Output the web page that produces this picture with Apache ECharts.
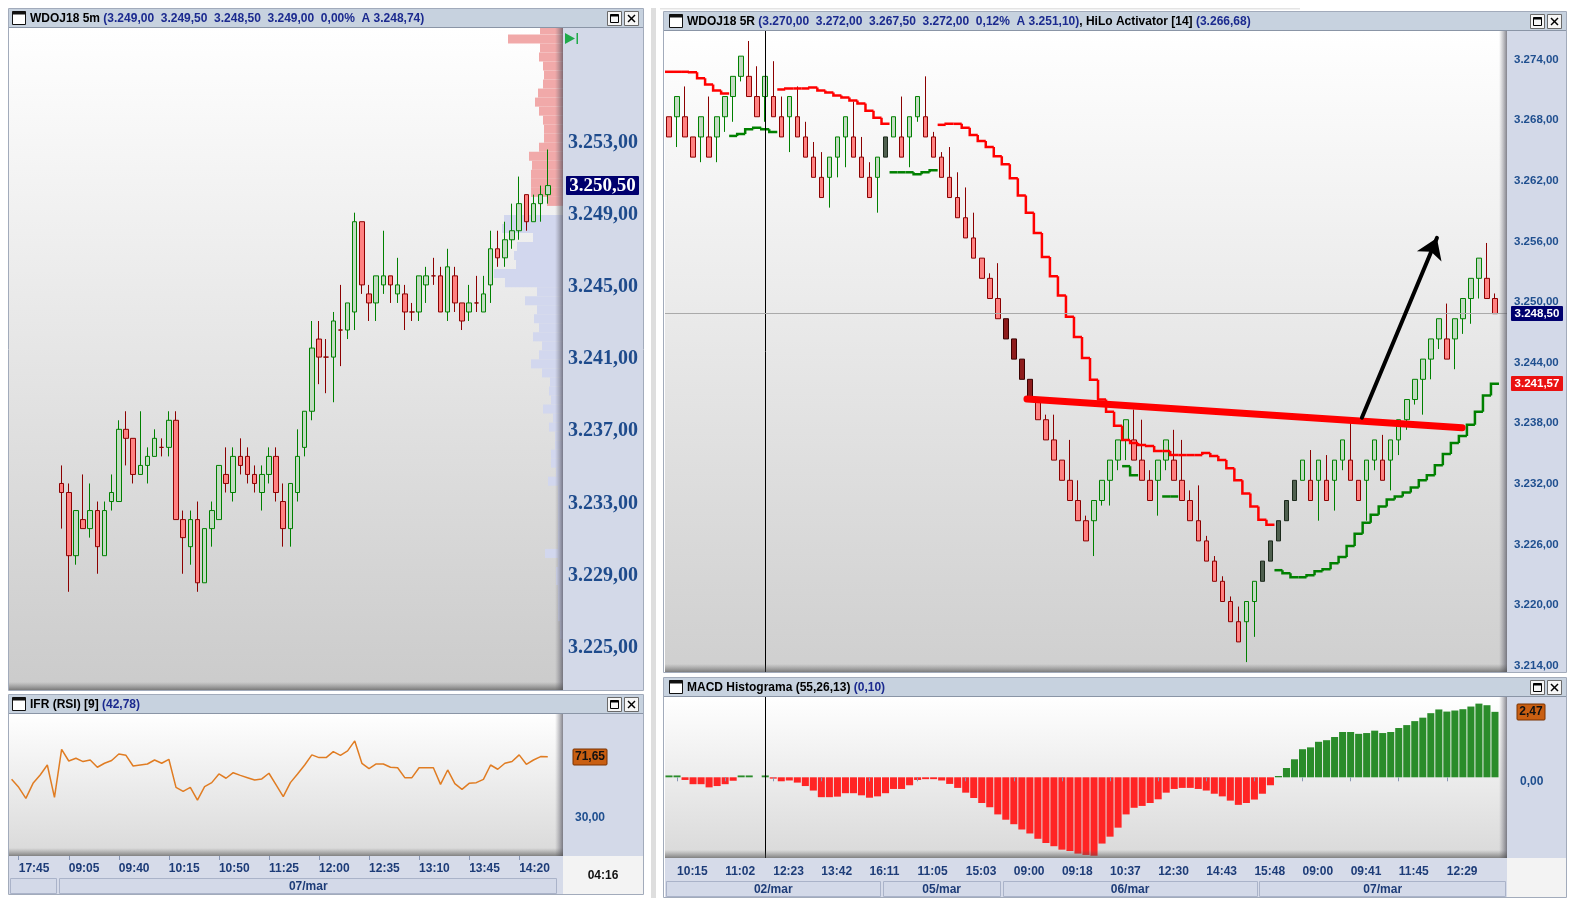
<!DOCTYPE html>
<html><head><meta charset="utf-8">
<script src="https://cdn.jsdelivr.net/npm/echarts@6.0.0/dist/echarts.min.js"></script>
<style>html,body{margin:0;padding:0;background:#fff;overflow:hidden}#c{width:1570px;height:902px}</style>
</head><body><div id="c"></div><script>
// ---------------- LEFT PANEL (WDOJ18 5m) ----------------
const leftSlotCount = 77;
const leftFirstSlot = 7;
const leftTickStart = 1, leftTickStep = 7;
const leftTickLabels = ['17:45','09:05','09:40','10:15','10:50','11:25','12:00','12:35','13:10','13:45','14:20'];
const leftDates = ['', '07/mar'];
const leftDateStarts = [0, 7];
const leftPriceTicks = [3225,3229,3233,3237,3241,3245,3249,3253];
const leftOpen  = [3234,3233.5,3230,3232,3231.5,3232.5,3230,3233,3233,3237,3236.5,3234.5,3235,3235.5,3236,3236,3237.5,3232,3230.5,3232,3228.5,3231.5,3232,3234.5,3233.5,3235.5,3235.5,3234.5,3233.5,3234.5,3235.5,3233,3231.5,3233.5,3236,3238,3242,3241,3241,3242.5,3242.5,3243.5,3248.5,3244.5,3244,3245,3245.5,3244.5,3244.5,3243.5,3243.5,3245,3245.5,3245.5,3243.5,3245.5,3244,3243.5,3244,3243.5,3245,3247,3246.5,3247.5,3248,3250,3248.5,3249.5,3250];
const leftClose = [3233.5,3230,3232.5,3231.5,3232.5,3230.5,3232.5,3233.5,3237,3236.5,3234.5,3235,3235.5,3236.5,3236,3237.5,3232,3231,3232,3228.5,3231.5,3232.5,3235,3234,3235.5,3235,3234.5,3234,3234.5,3235.5,3233.5,3231.5,3234,3235.5,3238,3241.5,3241,3241,3243,3242.5,3244,3248.5,3245,3244,3245.5,3245.5,3245,3245,3243.5,3243.5,3245.5,3245.5,3245.5,3243.5,3246,3244,3243,3244,3244,3244.5,3247,3246.5,3247.5,3248,3249.5,3248.5,3249.5,3250,3250.5];
const leftLow   = [3231.5,3228,3229.5,3231.5,3231,3229,3230,3232.5,3233,3235,3234,3234.5,3234,3235.5,3235.5,3235.5,3232,3229,3229.5,3228,3228.5,3230.5,3232,3233.5,3233,3234.5,3234,3233.5,3232.5,3234,3233,3230.5,3230.5,3233,3235.5,3237.5,3239.5,3239,3238.5,3240.5,3242,3242.5,3244.5,3243,3243,3244.5,3244,3244,3242.5,3243,3243,3244,3245,3243.5,3243,3243.5,3242.5,3243,3243.5,3243.5,3244,3246,3246,3247,3247.5,3248,3248.5,3248.5,3249.5];
const leftHigh  = [3235,3234,3232.5,3234.5,3234,3233,3233,3234.5,3237.5,3238,3236.5,3238,3236,3237,3236.5,3238,3238,3232.5,3232.5,3233,3231.5,3233,3235,3236,3236,3236.5,3236,3235,3235,3236,3236,3234,3234,3237,3238,3243,3243,3242,3243.5,3245,3244,3249,3248.5,3245,3245.5,3248,3245.5,3246.5,3245,3244,3245.5,3246,3246.5,3246,3247,3246,3244,3245,3245.5,3245.5,3248,3248,3248.5,3249.5,3251,3250,3250,3250.5,3252.5];
const profilePrices  = [3259,3258.5,3258,3257.5,3257,3256.5,3256,3255.5,3255,3254.5,3254,3253.5,3253,3252.5,3252,3251.5,3251,3250.5,3250,3249.5,3249,3248.5,3248,3247.5,3247,3246.5,3246,3245.5,3245,3244.5,3244,3243.5,3243,3242.5,3242,3241.5,3241,3240.5,3240,3239.5,3239,3238.5,3238,3237.5,3237,3236.5,3236,3235.5,3235,3234.5,3234,3233.5,3233,3232.5,3232,3231.5,3231,3230.5,3230,3229.5,3229,3228.5,3228,3227.5,3227,3226.5,3226,3225.5,3225,3224.5];
const profileVolumes = [23,55,23,24,20,19,20,25,28,24,20,19,19,24,34,31,32,32,32,16,6,59,61,30,46,49,47,69,58,26,38,26,29,24,30,21,24,32,21,13,14,12,20,10,14,8,8,12,12,7,15,5,5,5,5,5,5,5,18,5,7,7,5,5,5,5,3,3,1,1];
const rsiValues = [55.7,50.1,42.4,52.9,58.8,65.8,43.1,76.8,68.6,70.5,68.2,69.3,64.2,67.0,68.9,73.5,72.6,65.1,65.8,66.5,69.3,67.0,69.8,50.1,47.3,50.1,41.2,50.6,53.4,59.5,56.5,60.4,58.5,56.9,55.3,56.0,60.0,51.8,43.6,53.4,59.5,65.8,72.9,71.0,71.0,75.2,72.6,75.7,82.7,67.0,63.2,66.5,66.5,64.2,63.9,56.9,56.9,63.9,63.9,63.9,52.2,62.3,52.7,48.7,52.9,53.4,55.7,65.8,62.8,67.0,68.2,72.9,66.3,69.3,71.7,71.65];
const rsiTicks = [30];

// ---------------- RIGHT PANEL (WDOJ18 5R) ----------------
const rightSlotCount = 105;
const rightTickStart = 1, rightTickStep = 6;
const rightTickLabels = ['10:15','11:02','12:23','13:42','16:11','11:05','15:03','09:00','09:18','10:37','12:30','14:43','15:48','09:00','09:41','11:45','12:29'];
const rightDates = ['02/mar','05/mar','06/mar','07/mar'];
const rightDateStarts = [0, 27, 42, 74];
const rightPriceTicks = [3214,3220,3226,3232,3238,3244,3250,3256,3262,3268,3274];
const rightOpen  = [3268,3268,3268,3266,3266,3266,3266,3268,3270,3272,3272,3270,3270,3270,3268,3268,3268,3266,3264,3262,3262,3264,3266,3266,3264,3262,3262,3264,3266,3266,3266,3268,3268,3266,3264,3262,3260,3258,3256,3254,3252,3250,3248,3246,3244,3242,3240,3238,3236,3234,3232,3230,3228,3228,3230,3232,3234,3236,3236,3234,3232,3232,3234,3234,3232,3230,3228,3226,3224,3222,3220,3218,3218,3220,3222,3224,3226,3228,3230,3232,3232,3232,3232,3232,3234,3234,3232,3232,3234,3234,3234,3236,3238,3240,3242,3244,3246,3246,3246,3248,3250,3252,3252,3250];
const rightClose = [3266,3270,3266,3264,3268,3264,3268,3270,3272,3274,3270,3268,3272,3268,3266,3270,3266,3264,3262,3260,3264,3266,3268,3264,3262,3260,3264,3266,3268,3264,3268,3270,3266,3264,3262,3260,3258,3256,3254,3252,3250,3248,3246,3244,3242,3240,3238,3236,3234,3232,3230,3228,3226,3230,3232,3234,3236,3238,3234,3232,3230,3234,3236,3232,3230,3228,3226,3224,3222,3220,3218,3216,3220,3222,3224,3226,3228,3230,3232,3234,3230,3234,3230,3234,3236,3232,3230,3234,3236,3232,3236,3238,3240,3242,3244,3246,3248,3244,3248,3250,3252,3254,3250,3248.5];
const rightLow   = [3266,3265,3266,3264,3263.5,3264,3263.5,3266.5,3267.5,3271.5,3270,3268,3267.5,3268,3266,3264.5,3266,3264,3262,3260,3259,3262,3263,3264,3262,3260,3258.5,3264,3266,3264,3263,3267.5,3266,3264,3262,3260,3258,3256,3254,3252,3250,3248,3246,3244,3242,3240,3238,3236,3234,3232,3230,3228,3226,3224.5,3229.5,3229.5,3233,3234,3234,3232,3230,3228.5,3233,3232,3230,3228,3226,3224,3222,3220,3218,3216,3214,3216.5,3222,3224,3226,3228,3230,3232,3230,3228,3230,3229,3233,3232,3230,3228,3233,3232,3231,3234.5,3237,3239.5,3238.5,3242,3245,3244,3243,3246.5,3247.5,3250,3250,3248.5];
const rightHigh  = [3268,3270,3271,3266,3268,3270,3268,3270,3272,3274,3275.5,3273,3272,3273.5,3270,3270,3271,3267.5,3265.5,3264.5,3264,3266,3268,3269.5,3266,3263.5,3264,3266,3268,3270,3268,3270,3272,3266.5,3264.5,3265,3262.5,3261,3258.5,3254,3252.5,3253.5,3248,3246,3244,3242,3240,3238.5,3238.5,3234,3236,3232,3228.5,3230,3232,3234,3236,3238,3239,3238,3233,3234,3236,3237,3236,3231,3231.5,3226.5,3224.5,3222.5,3220.5,3219.5,3220,3222,3224,3226,3228,3230,3232,3234,3235,3234,3234.5,3234,3236,3238,3232,3234,3236,3236.5,3236,3238,3240,3242,3244,3246,3248,3249.5,3248,3250,3252,3254,3255.5,3250.5];
const rightDarkUp = [27,74,75,76,77,78];
const rightDarkDown = [42,43,44,45];
const hiloRed = [3272.45,3272.45,3272.45,3272.4,3271.8,3271.2,3270.6,3270.3,null,null,null,null,null,null,
  3270.7,3270.8,3270.8,3270.8,3270.9,3270.6,3270.4,3270.1,3269.9,3269.6,3269.3,3268.6,3267.9,3267.3,
  null,null,null,null,null,null,
  3267.2,3267.3,3267.3,3266.9,3266.2,3265.6,3265.0,3264.1,3263.3,3261.9,3260.2,3258.5,3256.5,3254.1,3252.2,3250.3,3248.2,3246.2,3244.1,3241.95,3240.0,3238.8,3237.4,3236.0,3235.7,3235.5,3235.4,3234.9,3234.9,3234.5,3234.5,3234.5,3234.5,3234.7,3234.4,3234.0,3233.2,3232.0,3230.7,3229.4,3228.1,3227.6,
  null,null,null,null,null,null,null,null,null,null,null,null,null,null,null,null,null,null,null,null,null,null,null,null,null,null,null,null];
const hiloGreen = [null,null,null,null,null,null,null,null,3266.1,3266.3,3266.75,3266.9,3266.75,3266.5,
  null,null,null,null,null,null,null,null,null,null,null,null,null,null,
  3262.5,3262.5,3262.5,3262.3,3262.5,3262.7,
  null,null,null,null,null,null,null,null,null,null,null,null,null,null,null,null,null,null,null,null,null,null,null,
  3233.4,3232.5,null,null,null,3230.4,3230.4,null,null,null,null,null,null,null,null,null,null,null,null,
  3223.1,3222.8,3222.4,3222.4,3222.6,3223.0,3223.2,3223.8,3224.4,3225.5,3226.7,3227.8,3228.6,3229.4,3230.1,3230.4,3230.8,3231.3,3232.0,3232.5,3233.5,3234.6,3235.7,3236.4,3237.5,3238.8,3240.4,3241.57];
const macdValues = [0.07,0.07,-0.10,-0.26,-0.26,-0.38,-0.33,-0.26,-0.13,0.07,0.07,0.0,0.07,-0.05,-0.15,-0.12,-0.20,-0.33,-0.50,-0.75,-0.75,-0.73,-0.60,-0.60,-0.68,-0.77,-0.72,-0.60,-0.44,-0.44,-0.30,-0.10,-0.07,-0.07,-0.12,-0.25,-0.40,-0.58,-0.78,-0.97,-1.13,-1.40,-1.60,-1.77,-1.97,-2.12,-2.32,-2.48,-2.60,-2.73,-2.78,-2.88,-2.93,-2.96,-2.50,-2.24,-1.90,-1.40,-1.15,-1.08,-0.97,-0.83,-0.58,-0.44,-0.40,-0.40,-0.44,-0.50,-0.62,-0.72,-0.88,-1.04,-0.97,-0.84,-0.62,-0.30,0.05,0.35,0.68,1.06,1.13,1.34,1.40,1.52,1.71,1.71,1.64,1.67,1.76,1.67,1.71,1.86,1.97,2.12,2.25,2.42,2.56,2.48,2.52,2.57,2.67,2.78,2.72,2.47];
const macdTicks = [0];
const crosshairSlot = 12;
const currentLinePrice = 3248.5;
// annotations (data coordinates: slot index, price)
const trendLine = [[44.64, 3240.05], [98.9, 3237.2]];
const arrowLine = [[86.4, 3238.2], [95.76, 3256.0]];
const noteText = [[75.4, 3252.0]];
const noteLabel = '10 PONTOS';

// axis ranges
const leftMin = 3222.56, leftMax = 3259.23;
const rsiMin = 1.9, rsiMax = 102.3;
const rightMin = 3213.02, rightMax = 3276.49;
const macdMin = -3.045, macdMax = 3.03;

// ---------------- helpers ----------------
function fmtBR(v, d) {
  const s = Number(v).toFixed(d);
  const parts = s.split('.');
  let ip = parts[0], neg = false;
  if (ip[0] === '-') { neg = true; ip = ip.slice(1); }
  ip = ip.replace(/\B(?=(\d{3})+(?!\d))/g, '.');
  return (neg ? '-' : '') + ip + (d ? ',' + parts[1] : '');
}
const leftCats = []; for (let k = 0; k < leftSlotCount; k++) leftCats.push(String(k));
const rightCats = []; for (let k = 0; k < rightSlotCount; k++) rightCats.push(String(k));
const isLeftTick = i => i >= leftTickStart && (i - leftTickStart) % leftTickStep === 0 && (i - leftTickStart) / leftTickStep < leftTickLabels.length;
const isRightTick = i => i >= rightTickStart && (i - rightTickStart) % rightTickStep === 0 && (i - rightTickStart) / rightTickStep < rightTickLabels.length;

const UP_FILL = '#c3dbc3', UP_LINE = '#008000', DN_FILL = '#ff8282', DN_LINE = '#8b0000';

const leftCandleData = leftCats.map((_, k) => {
  const i = k - leftFirstSlot;
  if (i < 0 || i >= leftOpen.length) return ['-', '-', '-', '-'];
  const o = leftOpen[i], c = leftClose[i];
  const item = { value: [o, c, leftLow[i], leftHigh[i]] };
  if (o === c) item.itemStyle = { borderColor: DN_LINE, borderColor0: DN_LINE };
  return item;
});
const rightCandleData = rightOpen.map((o, k) => {
  const item = { value: [o, rightClose[k], rightLow[k], rightHigh[k]] };
  if (rightDarkUp.includes(k)) item.itemStyle = { color: '#4f604f', color0: '#4f604f', borderColor: '#1b291b', borderColor0: '#1b291b' };
  if (rightDarkDown.includes(k)) item.itemStyle = { color: '#8e1c1c', color0: '#8e1c1c', borderColor: '#3a0000', borderColor0: '#3a0000' };
  return item;
});
function hiloData(arr) {
  const out = [];
  arr.forEach((v, k) => {
    if (v === null) return;
    const pv = (k > 0 && arr[k - 1] !== null) ? arr[k - 1] : NaN;
    out.push([k, v, pv]);
  });
  return out;
}
function hiloRender(color) {
  return function (params, api) {
    const k = api.value(0), v = api.value(1), pv = api.value(2);
    const c = api.coord([k, v]);
    const w = api.size([1, 0])[0];
    const xl = c[0] - w / 2, xr = c[0] + w / 2;
    const pts = [];
    if (isFinite(pv)) pts.push([xl, api.coord([k, pv])[1]]);
    pts.push([xl, c[1]], [xr, c[1]]);
    return { type: 'polyline', shape: { points: pts }, style: { stroke: color, lineWidth: 2.5, fill: null } };
  };
}

const chart = echarts.init(document.getElementById('c'), null, { renderer: 'canvas' });
const labelFont = { fontFamily: 'Liberation Sans', fontWeight: 'bold' };

const option = {
  animation: false,
  backgroundColor: '#ffffff',
  grid: [
    { left: 8, top: 28, width: 550.5, height: 662, containLabel: false, outerBoundsMode: 'none' },
    { left: 8, top: 713, width: 550.5, height: 143, containLabel: false, outerBoundsMode: 'none' },
    { left: 665, top: 31, width: 842, height: 641, containLabel: false, outerBoundsMode: 'none' },
    { left: 665, top: 697, width: 842, height: 161, containLabel: false, outerBoundsMode: 'none' },
    { left: 9, top: 28, width: 554, height: 662, containLabel: false, outerBoundsMode: 'none' }
  ],
  xAxis: [
    { type: 'category', gridIndex: 0, data: leftCats, boundaryGap: true, show: false },
    { type: 'category', gridIndex: 1, data: leftCats, boundaryGap: true, z: 10,
      axisLine: { show: false }, splitLine: { show: false },
      axisTick: { show: true, alignWithLabel: true, interval: isLeftTick, length: 4, lineStyle: { color: '#8796b4' } },
      axisLabel: Object.assign({ interval: isLeftTick, formatter: (v, i) => leftTickLabels[(i - leftTickStart) / leftTickStep],
        align: 'left', margin: 7, color: '#1d3c78', fontSize: 12 }, labelFont) },
    { type: 'category', gridIndex: 2, data: rightCats, boundaryGap: true, show: false },
    { type: 'category', gridIndex: 3, data: rightCats, boundaryGap: true, z: 10,
      axisLine: { show: false }, splitLine: { show: false },
      axisTick: { show: true, alignWithLabel: true, interval: isRightTick, length: 4, lineStyle: { color: '#8796b4' } },
      axisLabel: Object.assign({ interval: isRightTick, formatter: (v, i) => rightTickLabels[(i - rightTickStart) / rightTickStep],
        align: 'left', margin: 8, color: '#1d3c78', fontSize: 12 }, labelFont) },
    { type: 'value', gridIndex: 2, min: -0.5, max: rightSlotCount - 0.5, show: false },
    { type: 'value', gridIndex: 4, min: 0, max: 554, inverse: true, show: false }
  ],
  yAxis: [
    { type: 'value', gridIndex: 0, position: 'right', min: leftMin, max: leftMax, z: 10,
      axisLine: { show: false }, axisTick: { show: false }, splitLine: { show: false },
      axisLabel: { customValues: leftPriceTicks, formatter: v => fmtBR(v, 2), margin: 9.5, color: '#1e4b8c',
        fontFamily: 'Liberation Serif', fontWeight: 'bold', fontSize: 20, verticalAlign: 'top', lineHeight: 4 } },
    { type: 'value', gridIndex: 1, position: 'right', min: rsiMin, max: rsiMax, z: 10,
      axisLine: { show: false }, axisTick: { show: false }, splitLine: { show: false },
      axisLabel: Object.assign({ customValues: rsiTicks, formatter: v => fmtBR(v, 2), margin: 16.5, color: '#1f4f8f', fontSize: 12, verticalAlign: 'top', lineHeight: 4 }, labelFont) },
    { type: 'value', gridIndex: 2, position: 'right', min: rightMin, max: rightMax, z: 10,
      axisLine: { show: false }, axisTick: { show: false }, splitLine: { show: false },
      axisLabel: Object.assign({ customValues: rightPriceTicks, formatter: v => fmtBR(v, 2), margin: 7, color: '#1f4f8f', fontSize: 11.5, verticalAlign: 'top', lineHeight: 7 }, labelFont) },
    { type: 'value', gridIndex: 3, position: 'right', min: macdMin, max: macdMax, z: 10,
      axisLine: { show: false }, axisTick: { show: false }, splitLine: { show: false },
      axisLabel: Object.assign({ customValues: macdTicks, formatter: v => fmtBR(v, 2), margin: 13, color: '#1f4f8f', fontSize: 12, verticalAlign: 'top', lineHeight: 8 }, labelFont) },
    { type: 'value', gridIndex: 4, min: leftMin, max: leftMax, show: false }
  ],
  series: [
    { type: 'custom', name: 'profile', xAxisIndex: 5, yAxisIndex: 4, z: 1, clip: true, silent: true,
      encode: { x: 1, y: 0 },
      data: profilePrices.map((p, i) => [p, profileVolumes[i]]),
      renderItem: function (params, api) {
        const p = api.value(0), v = api.value(1);
        const a = api.coord([v, p + 0.375]);
        const b = api.coord([0, p - 0.125]);
        const fill = p >= 3249.5 ? '#f1a9a9' : (p === 3249 ? '#ececec' : '#d2d7ee');
        return { type: 'rect', shape: { x: a[0], y: a[1], width: b[0] - a[0], height: b[1] - a[1] }, style: { fill: fill } };
      } },
    { type: 'candlestick', name: 'WDOJ18 5m', xAxisIndex: 0, yAxisIndex: 0, z: 3, barWidth: 5,
      data: leftCandleData,
      itemStyle: { color: UP_FILL, color0: DN_FILL, borderColor: UP_LINE, borderColor0: DN_LINE, borderWidth: 1 } },
    { type: 'line', name: 'IFR', xAxisIndex: 1, yAxisIndex: 1, data: rsiValues, symbol: 'none',
      lineStyle: { color: '#e07c22', width: 1.5 } },
    { type: 'candlestick', name: 'WDOJ18 5R', xAxisIndex: 2, yAxisIndex: 2, z: 3, barWidth: 5,
      data: rightCandleData,
      itemStyle: { color: UP_FILL, color0: DN_FILL, borderColor: UP_LINE, borderColor0: DN_LINE, borderWidth: 1 },
      markLine: { silent: true, symbol: 'none', label: { show: false }, animation: false,
        data: [
          { xAxis: crosshairSlot, lineStyle: { color: '#000000', width: 1, type: 'solid' } },
          { yAxis: currentLinePrice, lineStyle: { color: '#aaaaaa', width: 1, type: 'solid' } }
        ] } },
    { type: 'custom', name: 'HiLo red', xAxisIndex: 2, yAxisIndex: 2, z: 4, silent: true,
      dimensions: ['k', 'v', 'pv'], encode: { x: 0, y: 1 },
      data: hiloData(hiloRed), renderItem: hiloRender('#ff0000') },
    { type: 'custom', name: 'HiLo green', xAxisIndex: 2, yAxisIndex: 2, z: 4, silent: true,
      dimensions: ['k', 'v', 'pv'], encode: { x: 0, y: 1 },
      data: hiloData(hiloGreen), renderItem: hiloRender('#008000') },
    { type: 'lines', coordinateSystem: 'cartesian2d', xAxisIndex: 4, yAxisIndex: 2, z: 6, silent: true,
      data: [{ coords: trendLine }], symbol: 'none',
      lineStyle: { color: '#ff0000', width: 7, cap: 'round', opacity: 1, curveness: 0 } },
    { type: 'lines', coordinateSystem: 'cartesian2d', xAxisIndex: 4, yAxisIndex: 2, z: 6, silent: true,
      data: [{ coords: arrowLine }], symbol: ['none', 'arrow'], symbolSize: [1, 20],
      lineStyle: { color: '#000000', width: 4, cap: 'round', opacity: 1, curveness: 0 } },
    { type: 'scatter', xAxisIndex: 4, yAxisIndex: 2, z: 7, silent: true, data: noteText, symbolSize: 1,
      itemStyle: { opacity: 0 },
      label: { show: true, position: 'inside', formatter: noteLabel, color: '#1414ee', fontSize: 20,
        fontWeight: 'bold', fontFamily: 'Liberation Sans' } },
    { type: 'bar', name: 'MACD', xAxisIndex: 3, yAxisIndex: 3, data: macdValues, barCategoryGap: '12%',
      itemStyle: { color: p => (p.value >= 0 ? '#2a8c2a' : '#ff2424') },
      markLine: { silent: true, symbol: 'none', label: { show: false }, animation: false,
        data: [{ xAxis: crosshairSlot, lineStyle: { color: '#000000', width: 1, type: 'solid' } }] } }
  ]
};
chart.setOption(option);

// ---------------- chrome (panels, headers, value boxes) ----------------
const LG = echarts.graphic.LinearGradient;
function vgrad(c0, c1) { return new LG(0, 0, 0, 1, [{ offset: 0, color: c0 }, { offset: 1, color: c1 }]); }
function hgrad(c0, c1) { return new LG(0, 0, 1, 0, [{ offset: 0, color: c0 }, { offset: 1, color: c1 }]); }
const AXBG = '#d3d9e8', HDR = '#c7d2df', ROWBG = '#d6dbe9';
const G = [];
function rect(x, y, w, h, fill, extra) { G.push(Object.assign({ type: 'rect', shape: { x: x, y: y, width: w, height: h }, style: { fill: fill }, z: -10, silent: true }, extra || {})); }
function frame(x, y, w, h, stroke) { G.push({ type: 'rect', shape: { x: x + 0.5, y: y + 0.5, width: w, height: h }, style: { fill: null, stroke: stroke, lineWidth: 1 }, z: 12, silent: true }); }
function text(x, y, t, style, z) { G.push({ type: 'text', x: x, y: y, z: z || 15, silent: true, style: Object.assign({ text: t, verticalAlign: 'middle', align: 'left' }, style) }); }
function header(x, y, w, richText, ix) {
  ix = ix || 3;
  rect(x, y, w, 18, HDR);
  G.push({ type: 'line', shape: { x1: x, y1: y + 18.5, x2: x + w, y2: y + 18.5 }, style: { stroke: '#8a95a6', lineWidth: 1 }, z: 12, silent: true });
  // window icon
  G.push({ type: 'rect', shape: { x: x + ix + 0.5, y: y + 2.5, width: 13, height: 13 }, style: { fill: '#ffffff', stroke: '#111', lineWidth: 1 }, z: 12, silent: true });
  G.push({ type: 'rect', shape: { x: x + ix + 0.5, y: y + 2.5, width: 13, height: 3 }, style: { fill: '#111' }, z: 12, silent: true });
  G.push({ type: 'text', x: x + ix + 18, y: y + 9.5, z: 15, silent: true, style: { text: richText,
    verticalAlign: 'middle', align: 'left',
    rich: { a: { fill: '#000000', fontSize: 12, fontWeight: 'bold', fontFamily: 'Liberation Sans' },
            b: { fill: '#1b2a8f', fontSize: 12, fontWeight: 'bold', fontFamily: 'Liberation Sans' } } } });
  // buttons
  const bx = x + w - 36;
  G.push({ type: 'rect', shape: { x: bx + 0.5, y: y + 2.5, width: 14, height: 14 }, style: { fill: '#f6f6f6', stroke: '#6a6a6a', lineWidth: 1 }, z: 12, silent: true });
  G.push({ type: 'rect', shape: { x: bx + 3.5, y: y + 5.5, width: 8, height: 8 }, style: { fill: null, stroke: '#000', lineWidth: 1 }, z: 13, silent: true });
  G.push({ type: 'line', shape: { x1: bx + 3.5, y1: y + 6.5, x2: bx + 11.5, y2: y + 6.5 }, style: { stroke: '#000', lineWidth: 2 }, z: 13, silent: true });
  G.push({ type: 'rect', shape: { x: bx + 17.5, y: y + 2.5, width: 14, height: 14 }, style: { fill: '#f6f6f6', stroke: '#6a6a6a', lineWidth: 1 }, z: 12, silent: true });
  G.push({ type: 'line', shape: { x1: bx + 21, y1: y + 6, x2: bx + 28, y2: y + 13 }, style: { stroke: '#000', lineWidth: 1.5 }, z: 13, silent: true });
  G.push({ type: 'line', shape: { x1: bx + 28, y1: y + 6, x2: bx + 21, y2: y + 13 }, style: { stroke: '#000', lineWidth: 1.5 }, z: 13, silent: true });
}
function shadowsFor(x, y, w, h) {
  rect(x + w - 8, y, 8, h, hgrad('rgba(110,110,120,0)', 'rgba(75,75,88,0.68)'), { z: 10 });
  rect(x, y + h - 8, w, 8, vgrad('rgba(90,90,90,0)', 'rgba(70,70,70,0.6)'), { z: 10 });
}
function valueBox(x, yc, w, h, fill, t, col, font, stroke) {
  G.push({ type: 'rect', shape: { x: x, y: Math.round(yc - h / 2), width: w, height: h, r: 1 }, style: { fill: fill, stroke: stroke || null, lineWidth: 1 }, z: 20, silent: true });
  G.push({ type: 'text', x: x + w / 2, y: yc, z: 21, silent: true, style: Object.assign({ text: t, fill: col, align: 'center', verticalAlign: 'middle' }, font) });
}
function dateBand(xAxisIndex, starts, labels, slots, y, h, xmin, xmax) {
  const c0 = chart.convertToPixel({ xAxisIndex: xAxisIndex }, 0);
  const c1 = chart.convertToPixel({ xAxisIndex: xAxisIndex }, 1);
  const sw = c1 - c0;
  starts.forEach((s, j) => {
    const e = j + 1 < starts.length ? starts[j + 1] : slots;
    let x0 = chart.convertToPixel({ xAxisIndex: xAxisIndex }, s) - sw / 2;
    let x1 = chart.convertToPixel({ xAxisIndex: xAxisIndex }, e - 1) + sw / 2;
    x0 = Math.max(x0, xmin); x1 = Math.min(x1, xmax);
    G.push({ type: 'rect', shape: { x: Math.round(x0) + 1.5, y: y + 0.5, width: Math.round(x1 - x0) - 3, height: h }, style: { fill: AXBG, stroke: '#aab3c9', lineWidth: 1 }, z: 12, silent: true });
    if (labels[j]) text((x0 + x1) / 2, y + h / 2 + 1.5, labels[j], { align: 'center', fill: '#1d3c78', fontSize: 12, fontWeight: 'bold', fontFamily: 'Liberation Sans' });
  });
}

// page separators
rect(651, 8, 5, 890, '#dedede');
rect(660, 8, 640, 1.5, '#e4e4e4');

// ---- left top (price) ----
rect(9, 28, 554, 662, vgrad('#ffffff', '#cbcbcb'));
rect(563, 28, 80, 662, AXBG);
shadowsFor(9, 28, 554, 662);
header(9, 9, 634, '{a|WDOJ18 5m }{b|(3.249,00  3.249,50  3.248,50  3.249,00  0,00%  A 3.248,74)}');
frame(8, 8, 635, 682, '#a2abbb');
// green end-marker
G.push({ type: 'polygon', shape: { points: [[565, 33], [565, 44], [575, 38.5]] }, style: { fill: '#1faa4a' }, z: 14, silent: true });
rect(576.5, 33, 1.5, 11, '#1faa4a', { z: 14 });

// ---- left bottom (RSI) ----
rect(9, 713, 554, 143, vgrad('#ffffff', '#d9d9d9'));
rect(563, 713, 80, 143, AXBG);
shadowsFor(9, 713, 554, 143);
rect(9, 856, 554, 38, ROWBG);
rect(563, 856, 80, 38, '#f3f3f3');
header(9, 695, 634, '{a|IFR (RSI) [9] }{b|(42,78)}');
frame(8, 694, 635, 200, '#a2abbb');
text(603, 876, '04:16', { align: 'center', fill: '#111', fontSize: 12, fontWeight: 'bold', fontFamily: 'Liberation Sans' });

// ---- right top (price) ----
rect(665, 31, 842, 641, vgrad('#ffffff', '#cfcfcf'));
rect(1507, 31, 59, 641, AXBG);
shadowsFor(665, 31, 842, 641);
header(664, 12, 902, '{a|WDOJ18 5R }{b|(3.270,00  3.272,00  3.267,50  3.272,00  0,12%  A 3.251,10)}{a|, HiLo Activator [14] }{b|(3.266,68)}', 5);
frame(663, 11, 903, 661, '#a2abbb');

// ---- right bottom (MACD) ----
rect(665, 697, 842, 161, vgrad('#ffffff', '#d9d9d9'));
rect(1507, 697, 59, 161, AXBG);
shadowsFor(665, 697, 842, 161);
rect(665, 858, 842, 39, ROWBG);
rect(1507, 858, 59, 39, '#f3f3f3');
header(664, 678, 902, '{a|MACD Histograma (55,26,13) }{b|(0,10)}', 5);
frame(663, 677, 903, 220, '#a2abbb');

// date bands
dateBand(1, leftDateStarts, leftDates, leftSlotCount, 878, 15, 9, 563);
dateBand(3, rightDateStarts, rightDates, rightSlotCount, 881, 15, 665, 1507);

// current-value boxes (positions through the axes)
const serifBold = { fontSize: 19, fontWeight: 'bold', fontFamily: 'Liberation Serif' };
const sansBold = { fontSize: 11.5, fontWeight: 'bold', fontFamily: 'Liberation Sans' };
const lastLeft = leftClose[leftClose.length - 1];
valueBox(566, chart.convertToPixel({ yAxisIndex: 0 }, lastLeft), 73, 19, '#00006e', fmtBR(lastLeft, 2), '#ffffff', serifBold);
const lastRsi = rsiValues[rsiValues.length - 1];
valueBox(573, chart.convertToPixel({ yAxisIndex: 1 }, lastRsi), 34, 16, '#c95f12', fmtBR(lastRsi, 2), '#111111', { fontSize: 12, fontWeight: 'bold', fontFamily: 'Liberation Sans' }, '#7a3300');
const lastRight = rightClose[rightClose.length - 1];
valueBox(1511, chart.convertToPixel({ yAxisIndex: 2 }, lastRight), 52, 15, '#00006e', fmtBR(lastRight, 2), '#ffffff', sansBold);
const lastHilo = hiloGreen[hiloGreen.length - 1];
valueBox(1511, chart.convertToPixel({ yAxisIndex: 2 }, lastHilo), 52, 15, '#ea1111', fmtBR(lastHilo, 2), '#ffffff', sansBold);
const lastMacd = macdValues[macdValues.length - 1];
valueBox(1517, chart.convertToPixel({ yAxisIndex: 3 }, lastMacd), 28, 16, '#c95f12', fmtBR(lastMacd, 2), '#111111', { fontSize: 12, fontWeight: 'bold', fontFamily: 'Liberation Sans' }, '#7a3300');

chart.setOption({ graphic: { elements: G } });
</script></body></html>
